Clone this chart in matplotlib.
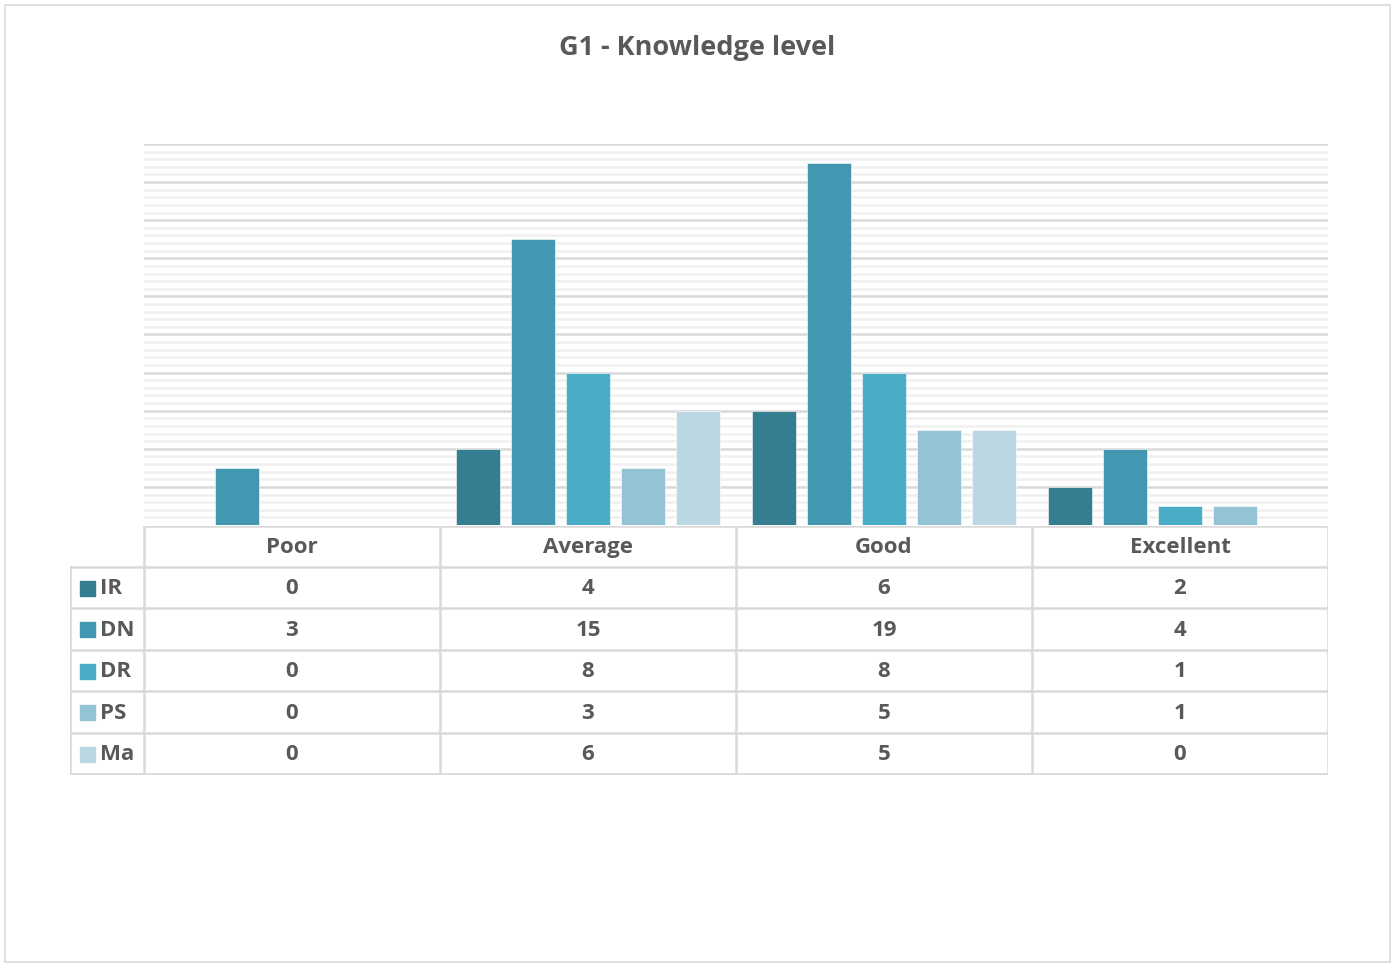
import numpy as np
from matplotlib import pyplot as plt
from matplotlib.patches import Rectangle

categories = ['Poor', 'Average', 'Good', 'Excellent']
series = ['IR', 'DN', 'DR', 'PS', 'Ma']
values = {
    'IR': [0, 4, 6, 2],
    'DN': [3, 15, 19, 4],
    'DR': [0, 8, 8, 1],
    'PS': [0, 3, 5, 1],
    'Ma': [0, 6, 5, 0],
}
colors = ['#357d91', '#4198b0', '#4bacc6', '#93c3d4', '#bad7e3']

plt.rcParams['font.family'] = ['Open Sans', 'DejaVu Sans']
txt = '#595959'
grid_major = '#d9d9d9'
grid_minor = '#f0f0f0'

W, H = 1397, 963
fig = plt.figure(figsize=(W / 100, H / 100), dpi=100)


def fx(px):
    return px / W


def fy(py):
    return 1 - py / H


# outer chart border
fig.patches.append(Rectangle((fx(5), fy(962)), fx(1385), 957 / H, transform=fig.transFigure,
                             fill=False, ec='#d9d9d9', lw=1.2))

fig.text(fx(697), fy(48), 'G1 - Knowledge level', ha='center', va='center',
         fontsize=19.5, fontweight='bold', color=txt)

# bar area
ax = fig.add_axes([fx(144), fy(525), fx(1328 - 144), (525 - 144) / H])
ax.set_xlim(0, 4)
ax.set_ylim(0, 20)
for v in np.arange(0, 20.01, 0.4):
    major = abs(v / 2 - round(v / 2)) < 1e-6
    if v == 0:
        continue
    ax.axhline(v, color=grid_major if major else grid_minor, lw=1.8, zorder=0)

pitch = 55 / 296
width = 44 / 296
x = np.arange(len(categories)) + 0.5
for i, s in enumerate(series):
    ax.bar(x + (i - 2) * pitch, values[s], width, color=colors[i],
           edgecolor='white', linewidth=0.4, zorder=2)
for sp in ax.spines.values():
    sp.set_visible(False)
ax.set_xticks([])
ax.set_yticks([])

# data table
tx = fig.add_axes([fx(70), fy(775), fx(1328 - 70), (775 - 526) / H])
tx.set_xlim(70, 1328)
tx.set_ylim(775, 526)
tx.axis('off')
col_edges = [144, 440, 736, 1032, 1328]
row_edges = [526, 567, 608, 650, 691, 733, 774]
lc = '#d9d9d9'
lw = 1.8
# horizontal lines
tx.plot([144, 1328], [row_edges[0]] * 2, color=lc, lw=lw)
for r in row_edges[1:]:
    tx.plot([70, 1328], [r, r], color=lc, lw=lw)
# vertical lines
tx.plot([70, 70], [row_edges[1], row_edges[-1]], color=lc, lw=lw)
for c in col_edges:
    tx.plot([c, c], [row_edges[0], row_edges[-1]], color=lc, lw=lw)

fs = 16
for j, cat in enumerate(categories):
    tx.text((col_edges[j] + col_edges[j + 1]) / 2, (row_edges[0] + row_edges[1]) / 2 + 1, cat,
            ha='center', va='center', fontsize=fs, fontweight='bold', color=txt)
for i, s in enumerate(series):
    yc = (row_edges[i + 1] + row_edges[i + 2]) / 2
    tx.add_patch(Rectangle((80, yc - 7), 15, 15, color=colors[i]))
    tx.text(100, yc + 1, s, ha='left', va='center', fontsize=fs, fontweight='bold', color=txt)
    for j in range(len(categories)):
        tx.text((col_edges[j] + col_edges[j + 1]) / 2, yc + 1, str(values[s][j]),
                ha='center', va='center', fontsize=fs, fontweight='bold', color=txt)

fig.savefig('out.png', dpi=100)
